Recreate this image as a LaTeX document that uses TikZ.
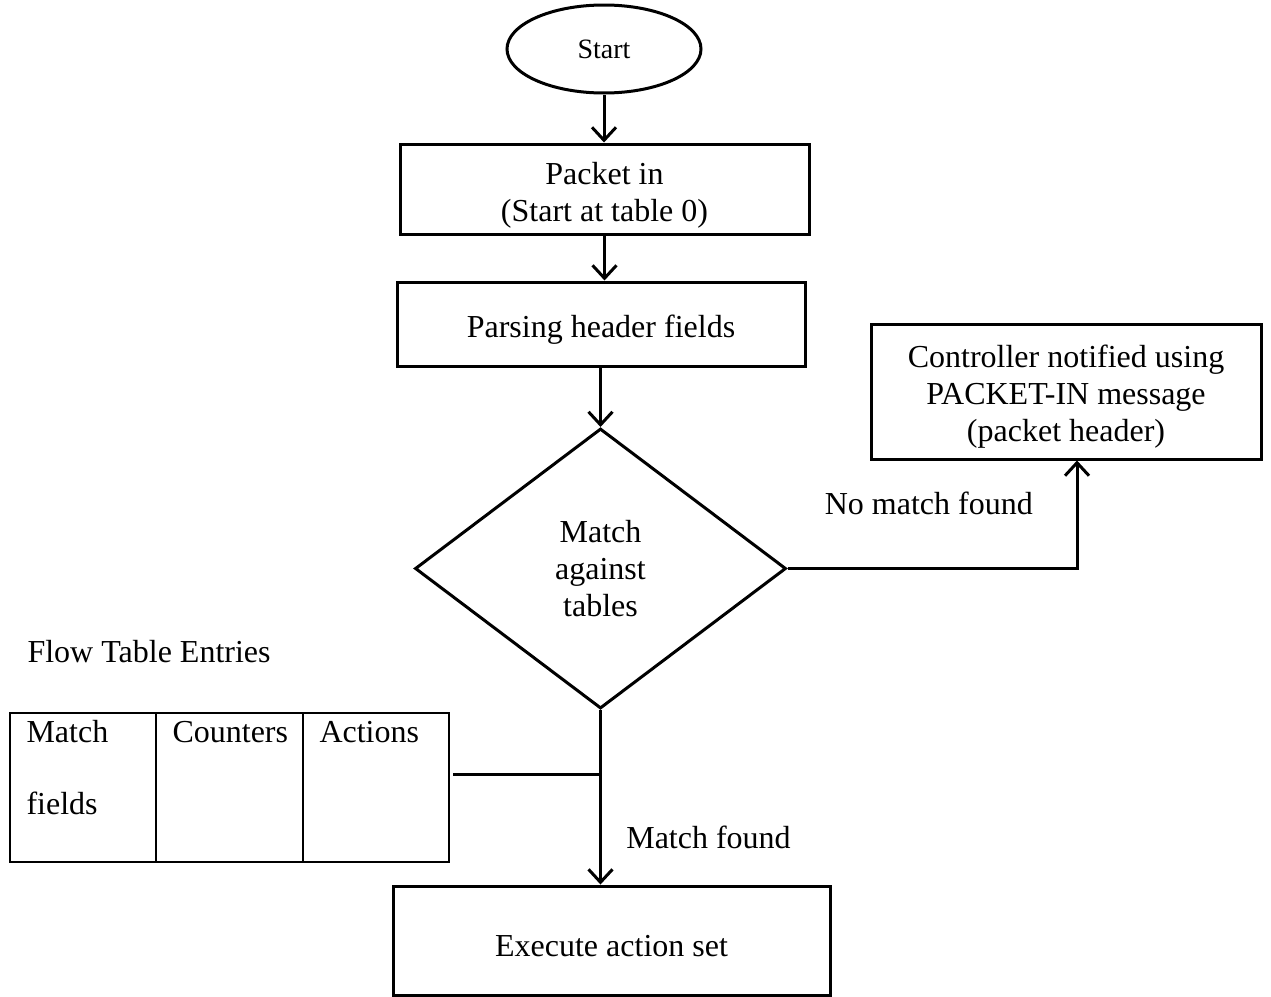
\documentclass[tikz,border=0pt]{standalone}
\usepackage{fontspec}
\setmainfont{Liberation Serif}
\usetikzlibrary{arrows.meta, positioning, shapes.geometric}

\begin{document}
\begin{tikzpicture}[x=1pt,y=-1pt,font=\fontsize{32}{37}\selectfont,
  >={Straight Barb[length=13pt,width=24pt]}]
  \tikzstyle{block}=[draw,line width=3pt,rectangle,align=center,inner sep=0pt]
  \tikzstyle{cell}=[draw,line width=2pt,rectangle,inner sep=0pt,minimum height=149pt]
  \tikzstyle{flow}=[->,line width=3pt]

  \useasboundingbox (0,0) rectangle (1271,996);

  \node[draw,ellipse,line width=3pt,inner sep=0pt,minimum width=194pt,minimum height=88pt,
        font=\fontsize{28}{33}\selectfont] (start) at (604,49) {Start};
  \node[block,minimum width=409pt,minimum height=90pt] (pktin) at (604.5,189)
        {\rule{0pt}{35pt}Packet in\\(Start at table 0)};
  \node[block,minimum width=408pt,minimum height=84pt] (parse) at (601,324)
        {\rule{0pt}{33pt}Parsing header fields};
  \node[draw,diamond,line width=3pt,inner sep=0pt,align=center,minimum width=371pt,minimum height=280pt]
        (match) at (600.5,568.5) {Match\\against\\tables};
  \node[block,minimum width=390pt,minimum height=135pt] (ctrl) at (1066,391.5)
        {\rule{0pt}{33pt}Controller notified using\\PACKET-IN message\\(packet header)};
  \node[block,minimum width=437pt,minimum height=109pt] (exec) at (611.5,940.5)
        {\rule{0pt}{32pt}Execute action set};

  \node[anchor=base west] (ftitle) at (24,662) {Flow Table Entries};
  \node[cell,minimum width=146pt] (mfields) at (83,787.5) {};
  \node[cell,minimum width=147pt] (counters) at (229.5,787.5) {};
  \node[cell,minimum width=146pt] (actions) at (376,787.5) {};
  \node[anchor=base west] at ([xshift=14pt,yshift=-30pt]mfields.north west) {Match};
  \node[anchor=base west] at ([xshift=14pt,yshift=-102pt]mfields.north west) {fields};
  \node[anchor=base west] at ([xshift=14pt,yshift=-30pt]counters.north west) {Counters};
  \node[anchor=base west] at ([xshift=14pt,yshift=-30pt]actions.north west) {Actions};

  \coordinate (join) at (match.south |- 0,774);

  \draw[flow] (start) -- (start |- pktin.north);
  \draw[flow] (pktin.south) -- (pktin.south |- parse.north);
  \draw[flow] (match.north |- parse.south) -- (match.north);
  \draw[flow] (match.east) -| ([xshift=11pt]ctrl.south)
        node[pos=0.244,yshift=65pt] {No match found};
  \draw[flow] (match.south) -- (match.south |- exec.north)
        node[pos=0.73,xshift=108pt] {Match found};
  \draw[line width=3pt] ([xshift=3pt]actions.east |- join) -- (join);
\end{tikzpicture}
\end{document}
